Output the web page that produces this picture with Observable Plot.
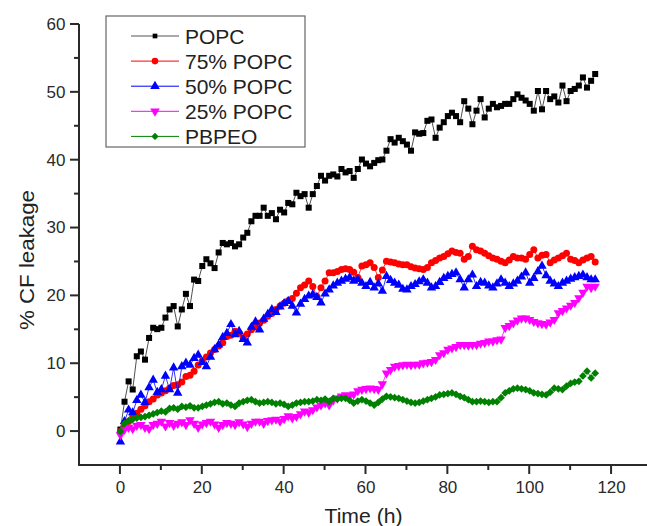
<!DOCTYPE html>
<html><head><meta charset="utf-8">
<script src="https://cdn.jsdelivr.net/npm/d3@7"></script>
<script src="https://cdn.jsdelivr.net/npm/@observablehq/plot@0.6"></script>
<style>
html,body{margin:0;padding:0;background:#fff;overflow:hidden;}
#chart{width:647px;height:526px;}
</style>
</head><body><div id="chart"></div>
<script>
const hours = [
  0,1,2,3,4,5,6,7,8,9,10,11,12,13,14,15,16,17,18,19,20,21,22,23,24,25,26,27,28,29,
  30,31,32,33,34,35,36,37,38,39,40,41,42,43,44,45,46,47,48,49,50,51,52,53,54,55,56,57,58,59,
  60,61,62,63,64,65,66,67,68,69,70,71,72,73,74,75,76,77,78,79,80,81,82,83,84,85,86,87,88,89,
  90,91,92,93,94,95,96,97,98,99,100,101,102,103,104,105,106,107,108,109,110,111,112,113,114,115,116
];
const popc = [
  0.3, 4.4, 7.4, 6.2, 11.1, 11.8, 10.6, 13.8, 15.3, 15.1,
  15.3, 16.8, 18.0, 18.5, 15.5, 18.0, 20.3, 18.5, 22.4, 22.2,
  24.4, 25.4, 24.8, 24.1, 26.4, 27.8, 27.6, 27.8, 27.3, 27.6,
  28.6, 29.3, 31.0, 31.8, 31.8, 33.0, 31.8, 32.2, 31.3, 32.7,
  32.3, 33.7, 33.5, 35.2, 34.7, 35.0, 33.0, 35.0, 36.2, 37.7,
  37.0, 37.7, 37.9, 37.6, 38.7, 38.2, 38.4, 37.4, 38.7, 40.1,
  39.5, 39.1, 39.6, 40.0, 40.1, 41.4, 43.1, 42.6, 43.3, 42.8,
  42.3, 41.4, 44.1, 43.9, 44.0, 45.8, 46.0, 43.3, 44.8, 45.6,
  46.5, 47.0, 46.5, 45.6, 48.7, 47.6, 45.3, 47.3, 49.0, 46.3,
  47.6, 48.3, 47.8, 48.0, 48.3, 48.3, 49.0, 49.7, 49.2, 48.8,
  48.3, 47.3, 50.2, 47.5, 50.2, 49.0, 49.4, 48.5, 51.0, 48.7,
  50.2, 50.5, 51.0, 52.2, 50.7, 51.7, 52.7
];
const popc75 = [
  0.0, 0.8, 1.5, 2.2, 2.7, 3.3, 3.8, 4.4, 4.8, 5.4,
  5.7, 6.0, 6.4, 6.8, 6.9, 7.3, 8.1, 8.3, 8.9, 9.8,
  10.4, 11.0, 11.6, 12.1, 12.6, 13.1, 14.0, 14.2, 14.8, 14.5,
  13.8, 14.4, 15.0, 15.4, 16.0, 16.4, 17.0, 17.4, 18.0, 18.5,
  18.9, 19.3, 19.6, 20.4, 21.2, 21.6, 22.2, 21.4, 19.9, 21.2,
  22.2, 23.4, 23.4, 23.6, 23.9, 24.0, 23.9, 23.5, 22.7, 24.4,
  24.6, 24.9, 24.2, 22.7, 23.8, 25.1, 25.0, 24.9, 24.7, 24.6,
  24.6, 24.3, 24.1, 24.0, 23.9, 24.2, 24.9, 25.2, 25.6, 25.8,
  26.2, 26.6, 26.4, 26.3, 25.4, 25.8, 27.3, 26.8, 26.6, 26.3,
  25.9, 25.6, 25.4, 25.1, 24.9, 25.3, 25.8, 25.6, 25.6, 25.4,
  26.1, 26.8, 25.6, 26.0, 26.1, 24.9, 25.3, 25.6, 25.9, 26.3,
  25.4, 25.2, 24.9, 25.3, 25.6, 25.8, 25.0
];
const popc50 = [
  -1.5, 1.5, 3.2, 2.8, 4.6, 5.4, 4.3, 6.5, 7.6, 5.8,
  6.2, 8.2, 6.2, 9.4, 5.7, 9.6, 10.1, 9.8, 10.8, 11.3,
  10.2, 9.6, 11.0, 12.1, 12.8, 13.9, 14.5, 15.8, 14.3, 14.8,
  13.6, 13.1, 15.4, 16.2, 15.0, 16.6, 17.3, 18.0, 17.6, 18.4,
  18.9, 19.2, 18.5, 17.5, 18.8, 19.5, 20.0, 20.2, 19.8, 19.0,
  20.3, 20.9, 21.5, 21.9, 22.2, 22.5, 22.7, 22.2, 22.4, 21.9,
  21.4, 22.0, 21.2, 21.8, 20.7, 22.9, 22.3, 21.9, 21.6, 21.0,
  20.9, 21.4, 21.7, 22.1, 22.4, 21.9, 21.2, 21.4, 22.0, 22.6,
  22.9, 23.2, 23.4, 22.4, 21.2, 22.4, 23.1, 21.4, 22.0, 21.9,
  21.5, 21.2, 21.8, 22.4, 21.9, 21.4, 21.8, 22.2, 22.8, 23.4,
  21.9, 22.6, 23.6, 24.4, 23.0, 22.2, 21.8, 21.4, 21.9, 22.2,
  22.5, 22.7, 22.9, 23.1, 22.7, 22.4, 22.4
];
const popc25 = [
  -0.5, 0.3, 0.6, 0.4, 0.9, 1.0, 0.6, 0.4, 1.0, 1.2,
  1.5, 0.8, 1.3, 0.9, 1.2, 1.4, 1.0, 1.7, 1.2, 0.6,
  1.1, 1.3, 1.5, 1.1, 0.6, 1.0, 1.3, 1.2, 1.0, 1.4,
  1.1, 0.7, 1.2, 1.5, 1.5, 1.2, 1.6, 1.7, 1.8, 1.5,
  1.9, 2.3, 2.0, 2.2, 2.6, 3.0, 2.8, 3.2, 3.6, 3.9,
  4.2, 3.9, 4.6, 4.9, 5.2, 5.4, 5.3, 5.5, 6.0, 6.2,
  6.3, 6.4, 6.3, 6.2, 7.0, 8.6, 9.1, 9.6, 9.7, 9.8,
  9.9, 9.8, 9.9, 9.9, 10.1, 10.2, 10.3, 10.6, 11.3, 11.6,
  12.1, 12.3, 12.5, 12.8, 12.8, 12.7, 12.8, 12.8, 13.0, 13.1,
  13.3, 13.3, 13.5, 13.6, 15.3, 15.6, 16.0, 16.4, 16.7, 16.7,
  16.5, 16.2, 16.0, 15.9, 15.8, 16.1, 16.5, 17.5, 17.8, 18.2,
  18.6, 19.0, 19.7, 20.5, 21.4, 21.2, 21.4
];
const pbpeo = [
  0.0, 1.2, 1.6, 1.8, 2.0, 2.1, 2.2, 2.4, 2.6, 2.8,
  3.0, 2.9, 3.4, 3.5, 3.3, 3.7, 3.6, 3.8, 3.5, 3.5,
  3.7, 3.9, 4.1, 4.3, 4.4, 4.1, 4.2, 3.9, 3.7, 4.2,
  4.4, 4.6, 4.7, 4.4, 4.2, 4.3, 4.4, 4.3, 4.1, 4.2,
  4.0, 3.7, 3.9, 4.2, 4.3, 4.4, 4.4, 4.5, 4.7, 4.6,
  4.8, 4.4, 4.9, 4.8, 4.9, 4.9, 4.6, 4.2, 4.5, 4.7,
  4.5, 4.2, 3.9, 4.3, 4.8, 5.2, 5.1, 5.0, 4.9, 4.7,
  4.5, 4.3, 4.2, 4.3, 4.5, 4.7, 4.9, 5.1, 5.4, 5.5,
  5.6, 5.7, 5.5, 5.2, 5.0, 4.7, 4.4, 4.4, 4.5, 4.4,
  4.3, 4.4, 4.4, 5.0, 5.7, 6.0, 6.3, 6.4, 6.3, 6.2,
  6.0, 5.7, 5.6, 5.5, 5.4, 5.8, 6.4, 6.3, 6.2, 6.7,
  7.1, 7.3, 7.4, 8.2, 8.9, 7.9, 8.6
];

const seriesNames = ["POPC", "75% POPC", "50% POPC", "25% POPC", "PBPEO"];
const seriesValues = [popc, popc75, popc50, popc25, pbpeo];
const seriesColors = ["#000000", "#ff0000", "#0000ff", "#ff00ff", "#008000"];
const seriesSymbols = ["square", "circle", "triangle", "triangle", "diamond2"];
const seriesRotate = [0, 0, 0, 180, 0];

const xTicks = [0, 20, 40, 60, 80, 100, 120];
const xMinorTicks = [10, 30, 50, 70, 90, 110];
const yTicks = [0, 10, 20, 30, 40, 50, 60];
const yMinorTicks = [5, 15, 25, 35, 45, 55];
const xTitle = "Time (h)";
const yTitle = "% CF leakage";

const font = "'Liberation Sans', Arial, Helvetica, sans-serif";
const axisColor = "#2a2a2a";

const seriesMarks = [];
seriesNames.forEach((name, s) => {
  const rows = seriesValues[s].map((v, i) => ({t: hours[i], v}));
  seriesMarks.push(Plot.line(rows, {x: "t", y: "v", stroke: s === 0 ? "#222" : seriesColors[s], strokeWidth: 0.8}));
  seriesMarks.push(Plot.dot(rows, {
    x: "t", y: "v", symbol: seriesSymbols[s], rotate: seriesRotate[s],
    fill: seriesColors[s], stroke: "none", r: s === 0 ? 3.4 : 3.5
  }));
});

const chart = Plot.plot({
  width: 647,
  height: 526,
  marginTop: 24,
  marginBottom: 61,
  marginLeft: 79,
  marginRight: 0,
  style: {fontFamily: font, background: "#fff", color: axisColor},
  x: {domain: [-10, 130], range: [79, 652]},
  y: {domain: [-5, 60], range: [465, 24]},
  marks: [
    ...seriesMarks,
    Plot.axisX({ticks: xTicks, tickSize: 0, tickPadding: 15, fontSize: 17, label: null, fill: axisColor}),
    Plot.axisY({ticks: yTicks, tickSize: 0, tickPadding: 14, fontSize: 17, label: null, fill: axisColor}),
    Plot.text([xTitle], {frameAnchor: "bottom", textAnchor: "middle", dy: 51, lineAnchor: "middle", fontSize: 20, fill: "#222"}),
    Plot.text([yTitle], {frameAnchor: "left", textAnchor: "middle", rotate: -90, dx: -52, dy: 15, lineAnchor: "middle", fontSize: 20, fill: "#222"})
  ]
});

const svg = d3.select(chart);

// stretch the axis titles to the reference's proportions
svg.selectAll("text").filter(function() { return this.textContent === yTitle; })
  .attr("textLength", 140).attr("lengthAdjust", "spacingAndGlyphs");
svg.selectAll("text").filter(function() { return this.textContent === xTitle; })
  .attr("textLength", 78).attr("lengthAdjust", "spacingAndGlyphs");

// axis lines and tick marks as filled rectangles, placed with the plot's own scales
const sx = chart.scale("x"), sy = chart.scale("y");
const yBase = sy.apply(-5), xBase = sx.apply(-10), yTop = sy.apply(60);
const ag = svg.append("g").attr("fill", axisColor).attr("stroke", "none");
ag.append("rect").attr("x", xBase - 1).attr("y", yTop).attr("width", 2).attr("height", yBase - yTop + 1);
ag.append("rect").attr("x", xBase - 1).attr("y", yBase - 1).attr("width", 647 - xBase + 1).attr("height", 2);
xTicks.forEach(t => ag.append("rect").attr("x", sx.apply(t) - 1).attr("y", yBase).attr("width", 2).attr("height", 9));
xMinorTicks.forEach(t => ag.append("rect").attr("x", sx.apply(t) - 1).attr("y", yBase).attr("width", 2).attr("height", 5));
yTicks.forEach(t => ag.append("rect").attr("x", xBase - 9).attr("y", sy.apply(t) - 1).attr("width", 9).attr("height", 2));
yMinorTicks.forEach(t => ag.append("rect").attr("x", xBase - 5).attr("y", sy.apply(t) - 1).attr("width", 5).attr("height", 2));

// legend box inside the plot area
const lg = svg.append("g").attr("font-family", font).attr("text-anchor", "start");
lg.append("rect").attr("x", 106).attr("y", 16).attr("width", 199).attr("height", 131)
  .attr("fill", "#fff").attr("stroke", "#666").attr("stroke-width", 1.2);
const symbolTypes = {square: d3.symbolSquare, circle: d3.symbolCircle, triangle: d3.symbolTriangle, diamond2: d3.symbolDiamond2};
const legendSizes = [22, 34, 40, 40, 34];
seriesNames.forEach((name, s) => {
  const cy = 36 + s * 25.1;
  const row = lg.append("g").attr("transform", `translate(0,${cy})`);
  row.append("line").attr("x1", 131).attr("x2", 179).attr("y1", 0).attr("y2", 0)
    .attr("stroke", s === 0 ? "#555" : seriesColors[s]).attr("stroke-width", 1);
  row.append("path").attr("d", d3.symbol().type(symbolTypes[seriesSymbols[s]]).size(legendSizes[s])())
    .attr("transform", `translate(155,0) rotate(${seriesRotate[s]})`)
    .attr("fill", seriesColors[s]);
  row.append("text").attr("x", 185).attr("y", 0).attr("dy", "0.36em")
    .attr("font-size", 21).attr("fill", "#222").attr("text-anchor", "start").text(name);
});

document.getElementById("chart").appendChild(chart);
</script>
</body></html>
